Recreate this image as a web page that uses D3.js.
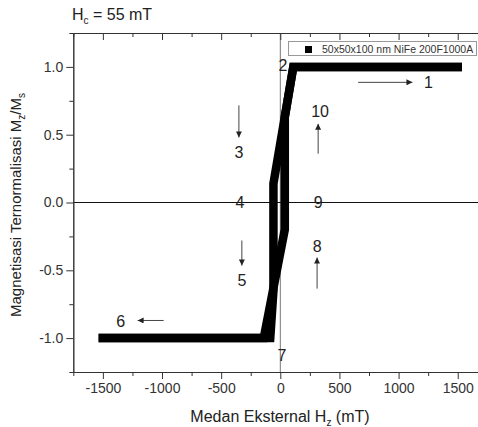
<!DOCTYPE html>
<html>
<head>
<meta charset="utf-8">
<script src="https://cdn.jsdelivr.net/npm/d3@7"></script>
<style>
body { margin:0; background:#fff; }
text { font-family: "Liberation Sans", Arial, sans-serif; fill:#222; }
</style>
</head>
<body>
<svg id="chart" width="478" height="427"></svg>
<script>
// hysteresis loop, descending and ascending branches
var hDesc = [1500, 110, -58, -58, -85, -1500];
var mDesc = [1, 1, 0.14, -0.65, -1, -1];
var hAsc = [-1500, -140, 38, 38, 110, 1500];
var mAsc = [-1, -1, -0.2, 0.63, 1, 1];

var xTicks = [-1500, -1000, -500, 0, 500, 1000, 1500];
var xMinor = [-1750, -1250, -750, -250, 250, 750, 1250, 1750];
var yTicks = [-1, -0.5, 0, 0.5, 1];
var yMinor = [-1.25, -0.75, -0.25, 0.25, 0.75, 1.25];

// numbered step labels (data units)
var stepText = ["1", "2", "10", "3", "4", "9", "8", "5", "6", "7"];
var stepH = [1252, 23, 336, -350, -342, 320, 311, -325, -1350, 14];
var stepM = [0.886, 1.01, 0.67, 0.37, 0, 0, -0.32, -0.576, -0.878, -1.13];

// arrows: from (h0,m0) to (h1,m1)
var arrH0 = [658, 320, -350, 311, -325, -986];
var arrM0 = [0.886, 0.36, 0.716, -0.635, -0.28, -0.87];
var arrH1 = [1117, 320, -350, 311, -325, -1206];
var arrM1 = [0.886, 0.58, 0.48, -0.406, -0.465, -0.87];

var legendLabel = "50x50x100 nm NiFe 200F1000A";

var svg = d3.select("#chart");
var margin = {left:73.3, top:33, right:487.3, bottom:372};

var x = d3.scaleLinear().domain([-1750, 1750]).range([margin.left, margin.right]);
var y = d3.scaleLinear().domain([-1.25, 1.25]).range([margin.bottom, margin.top]);

svg.append("defs").append("marker")
	.attr("id","head")
	.attr("viewBox","0 0 10 10")
	.attr("refX",10).attr("refY",5)
	.attr("markerWidth",7).attr("markerHeight",6)
	.attr("markerUnits","userSpaceOnUse")
	.attr("orient","auto")
	.append("path")
	.attr("d","M0,0 L10,5 L0,10 Z")
	.attr("fill","#222");

// zero lines
svg.append("line")
	.attr("x1", x(0)).attr("x2", x(0))
	.attr("y1", margin.top).attr("y2", margin.bottom)
	.style("stroke","#777").style("stroke-width",1);
svg.append("line")
	.attr("x1", margin.left).attr("x2", margin.right)
	.attr("y1", y(0)).attr("y2", y(0))
	.style("stroke","#111").style("stroke-width",1);

// loop
var line = d3.line().x(function(d){ return x(d[0]); }).y(function(d){ return y(d[1]); });
[[hDesc, mDesc], [hAsc, mAsc]].forEach(function(b){
	var pts = b[0].map(function(h,i){ return [h, b[1][i]]; });
	svg.append("path")
		.attr("d", line(pts))
		.style("fill","none")
		.style("stroke","#000")
		.style("stroke-width",8.5)
		.style("stroke-linecap","square")
		.style("stroke-linejoin","miter");
});

// axes
function fmt(f){ return function(d){ return d3.format(f)(d).replace("\u2212","-"); }; }
function tickStyle(g){
	g.select(".domain").style("stroke","#333");
	g.selectAll(".tick line").style("stroke","#333");
	g.selectAll(".tick text").style("font-size","14px").style("fill","#333")
		.style("font-family","Liberation Sans, Arial, sans-serif");
}
var gx = svg.append("g").attr("transform","translate(0,"+margin.bottom+")")
	.call(d3.axisBottom(x).tickValues(xTicks).tickSize(7).tickSizeOuter(0).tickPadding(4)
		.tickFormat(fmt("d")));
tickStyle(gx);
svg.append("g").attr("transform","translate(0,"+margin.bottom+")")
	.call(d3.axisBottom(x).tickValues(xMinor).tickSize(4).tickSizeOuter(0).tickFormat(""))
	.call(tickStyle);

svg.append("g").attr("transform","translate(0,"+margin.top+")")
	.call(d3.axisBottom(x).tickValues(xTicks).tickSize(7).tickSizeOuter(0).tickFormat(""))
	.call(tickStyle);
svg.append("g").attr("transform","translate(0,"+margin.top+")")
	.call(d3.axisBottom(x).tickValues(xMinor).tickSize(4).tickSizeOuter(0).tickFormat(""))
	.call(tickStyle);

var gy = svg.append("g").attr("transform","translate("+margin.left+",0)")
	.call(d3.axisLeft(y).tickValues(yTicks).tickSize(7).tickSizeOuter(0).tickPadding(3)
		.tickFormat(fmt(".1f")));
tickStyle(gy);
svg.append("g").attr("transform","translate("+margin.left+",0)")
	.call(d3.axisLeft(y).tickValues(yMinor).tickSize(4).tickSizeOuter(0).tickFormat(""))
	.call(tickStyle);

// step labels
svg.append("g").selectAll("text")
	.data(stepText).enter().append("text")
	.attr("x", function(d,i){ return x(stepH[i]); })
	.attr("y", function(d,i){ return y(stepM[i]); })
	.attr("dy","0.36em")
	.attr("text-anchor","middle")
	.style("font-size","16px")
	.text(function(d){ return d; });

// arrows
svg.append("g").selectAll("line")
	.data(arrH0).enter().append("line")
	.attr("x1", function(d){ return x(d); })
	.attr("y1", function(d,i){ return y(arrM0[i]); })
	.attr("x2", function(d,i){ return x(arrH1[i]); })
	.attr("y2", function(d,i){ return y(arrM1[i]); })
	.style("stroke","#444").style("stroke-width",1)
	.attr("marker-end","url(#head)");

// legend
svg.append("rect")
	.attr("x",288.5).attr("y",41.5).attr("width",188).attr("height",14)
	.style("fill","#fff").style("stroke","#999").style("stroke-width",1);
svg.append("rect")
	.attr("x",305).attr("y",46).attr("width",7).attr("height",7)
	.style("fill","#000");
svg.append("text")
	.attr("x",322).attr("y",52.5)
	.style("font-size","10.5px").style("fill","#333")
	.text(legendLabel);

// title
var title = svg.append("text").attr("x",72).attr("y",20).style("font-size","16px");
title.append("tspan").text("H");
title.append("tspan").attr("dy",4).style("font-size","10px").text("c");
title.append("tspan").attr("dy",-4).text(" = 55 mT");

// axis titles
var xl = svg.append("text").attr("x",280).attr("y",422).attr("text-anchor","middle").style("font-size","16px");
xl.append("tspan").text("Medan Eksternal H");
xl.append("tspan").attr("dy",4).style("font-size","10px").text("z");
xl.append("tspan").attr("dy",-4).text(" (mT)");

var yl = svg.append("text").attr("transform","translate(21,205) rotate(-90)").attr("text-anchor","middle").style("font-size","15px");
yl.append("tspan").text("Magnetisasi Ternormalisasi M");
yl.append("tspan").attr("dy",4).style("font-size","10px").text("z");
yl.append("tspan").attr("dy",-4).text("/M");
yl.append("tspan").attr("dy",4).style("font-size","10px").text("s");
</script>
</body>
</html>
